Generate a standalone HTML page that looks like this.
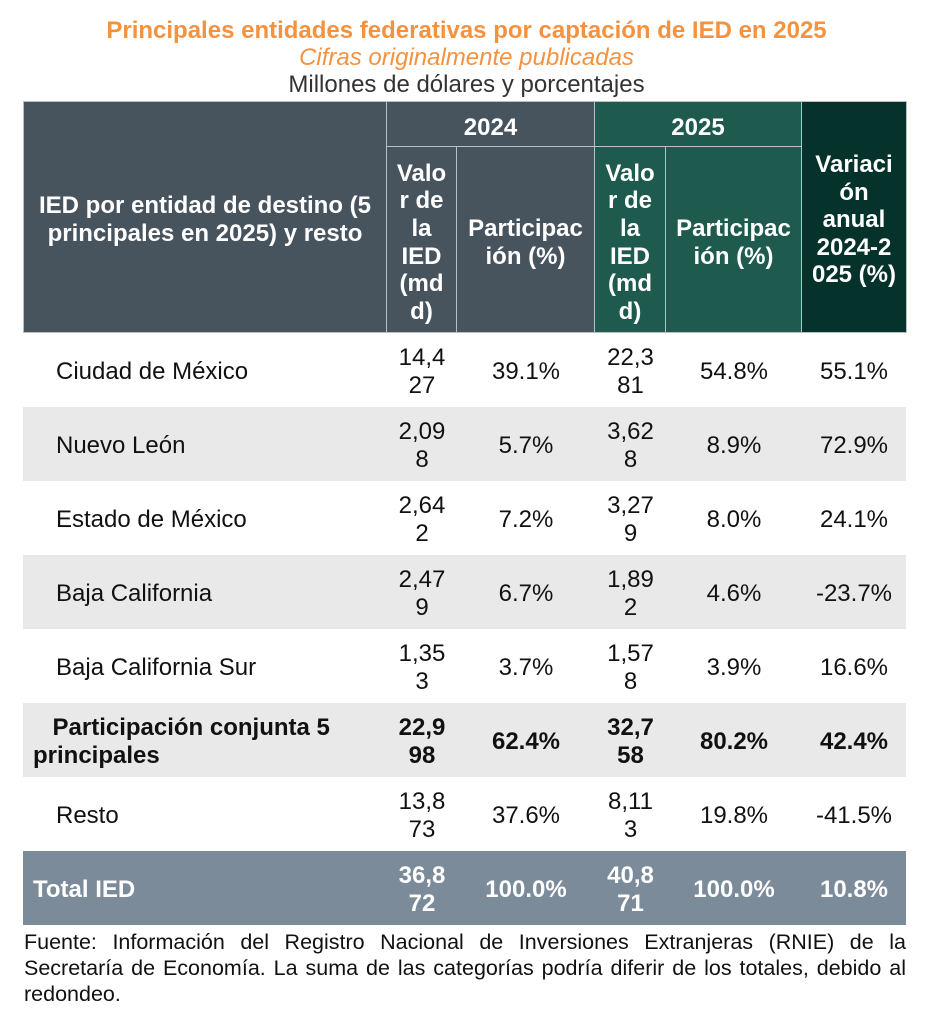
<!DOCTYPE html>
<html>
<head>
<meta charset="utf-8">
<style>
  html, body { margin:0; padding:0; }
  body { width:926px; height:1024px; background:#fff; position:relative; overflow:hidden;
         font-family:"Liberation Sans", Arial, Helvetica, sans-serif; color:#111; }
  .t { position:absolute; left:25px; width:883px; text-align:center; font-size:24px; line-height:27px; white-space:nowrap; }
  .hc { position:absolute; box-sizing:border-box; display:flex; align-items:center; justify-content:center;
        text-align:center; color:#fff; font-weight:bold; font-size:24px; line-height:27.6px; white-space:nowrap;
        padding-top:6px; }
  .slate { background:#47535d; }
  .green { background:#1f5a4e; }
  .dark { background:#05322a; }
  .row { position:absolute; left:23px; width:883px; height:74px; }
  .c { position:absolute; top:0; height:74px; box-sizing:border-box; padding-top:4px; display:flex; align-items:center; justify-content:center;
       text-align:center; font-size:24px; line-height:27.6px; white-space:nowrap; }
  .c1 { left:0; width:364px; justify-content:flex-start; text-align:left; }
  .c2 { left:364px; width:70px; }
  .c3 { left:434px; width:138px; }
  .c4 { left:572px; width:71px; }
  .c5 { left:643px; width:136px; }
  .c6 { left:779px; width:104px; }
  .gray { background:#e9e9e9; }
  .total { background:#7b8b99; color:#fff; font-weight:bold; }
  .b { font-weight:bold; }
  .fn { position:absolute; left:24px; width:882px; font-size:21.5px; line-height:26px; white-space:nowrap; color:#111; }
  .just { text-align:justify; text-align-last:justify; }
</style>
</head>
<body>

<div class="t" style="top:16.5px; color:#f4923f; font-weight:bold;">Principales entidades federativas por captación de IED en 2025</div>
<div class="t" style="top:43.5px; color:#f4923f; font-style:italic;">Cifras originalmente publicadas</div>
<div class="t" style="top:70.5px; color:#333;">Millones de dólares y porcentajes</div>

<!-- header frame -->
<div style="position:absolute; left:23px; top:101px; width:884px; height:232px; background:#b9c0c4;"></div>

<div class="hc slate" style="left:24px; top:102px; width:362px; height:230px;">IED por entidad de destino (5<br>principales en 2025) y resto</div>
<div class="hc slate" style="left:387px; top:102px; width:207px; height:44px; padding-top:8px;">2024</div>
<div class="hc green" style="left:595px; top:102px; width:206px; height:44px; padding-top:8px;">2025</div>
<div class="hc dark" style="left:802px; top:102px; width:104px; height:230px;">Variaci<br>ón<br>anual<br>2024-2<br>025 (%)</div>
<div class="hc slate" style="left:387px; top:147px; width:69px; height:185px;">Valo<br>r de<br>la<br>IED<br>(md<br>d)</div>
<div class="hc slate" style="left:457px; top:147px; width:137px; height:185px;">Participac<br>ión (%)</div>
<div class="hc green" style="left:595px; top:147px; width:70px; height:185px;">Valo<br>r de<br>la<br>IED<br>(md<br>d)</div>
<div class="hc green" style="left:666px; top:147px; width:135px; height:185px;">Participac<br>ión (%)</div>

<!-- body rows -->
<div class="row" style="top:333px;">
  <div class="c c1" style="padding-left:33px;">Ciudad de México</div>
  <div class="c c2">14,4<br>27</div>
  <div class="c c3">39.1%</div>
  <div class="c c4">22,3<br>81</div>
  <div class="c c5">54.8%</div>
  <div class="c c6">55.1%</div>
</div>

<div class="row gray" style="top:407px;">
  <div class="c c1" style="padding-left:33px;">Nuevo León</div>
  <div class="c c2">2,09<br>8</div>
  <div class="c c3">5.7%</div>
  <div class="c c4">3,62<br>8</div>
  <div class="c c5">8.9%</div>
  <div class="c c6">72.9%</div>
</div>

<div class="row" style="top:481px;">
  <div class="c c1" style="padding-left:33px;">Estado de México</div>
  <div class="c c2">2,64<br>2</div>
  <div class="c c3">7.2%</div>
  <div class="c c4">3,27<br>9</div>
  <div class="c c5">8.0%</div>
  <div class="c c6">24.1%</div>
</div>

<div class="row gray" style="top:555px;">
  <div class="c c1" style="padding-left:33px;">Baja California</div>
  <div class="c c2">2,47<br>9</div>
  <div class="c c3">6.7%</div>
  <div class="c c4">1,89<br>2</div>
  <div class="c c5">4.6%</div>
  <div class="c c6">-23.7%</div>
</div>

<div class="row" style="top:629px;">
  <div class="c c1" style="padding-left:33px;">Baja California Sur</div>
  <div class="c c2">1,35<br>3</div>
  <div class="c c3">3.7%</div>
  <div class="c c4">1,57<br>8</div>
  <div class="c c5">3.9%</div>
  <div class="c c6">16.6%</div>
</div>

<div class="row gray b" style="top:703px;">
  <div class="c c1" style="padding-left:10px;"><div><span style="display:inline-block; width:19.5px;"></span>Participación conjunta 5<br>principales</div></div>
  <div class="c c2">22,9<br>98</div>
  <div class="c c3">62.4%</div>
  <div class="c c4">32,7<br>58</div>
  <div class="c c5">80.2%</div>
  <div class="c c6">42.4%</div>
</div>

<div class="row" style="top:777px;">
  <div class="c c1" style="padding-left:33px;">Resto</div>
  <div class="c c2">13,8<br>73</div>
  <div class="c c3">37.6%</div>
  <div class="c c4">8,11<br>3</div>
  <div class="c c5">19.8%</div>
  <div class="c c6">-41.5%</div>
</div>

<div class="row total" style="top:851px;">
  <div class="c c1" style="padding-left:10px;">Total IED</div>
  <div class="c c2">36,8<br>72</div>
  <div class="c c3">100.0%</div>
  <div class="c c4">40,8<br>71</div>
  <div class="c c5">100.0%</div>
  <div class="c c6">10.8%</div>
</div>

<!-- footnote -->
<div class="fn just" style="top:929px;">Fuente: Información del Registro Nacional de Inversiones Extranjeras (RNIE) de la</div>
<div class="fn just" style="top:955px;">Secretaría de Economía. La suma de las categorías podría diferir de los totales, debido al</div>
<div class="fn" style="top:981px;">redondeo.</div>

</body>
</html>
